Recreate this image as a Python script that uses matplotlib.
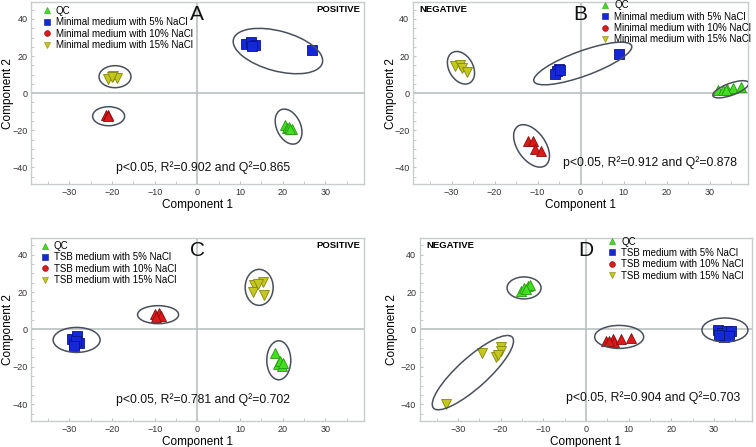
import matplotlib.pyplot as plt
from matplotlib.patches import Ellipse
from matplotlib.lines import Line2D
from matplotlib.transforms import ScaledTranslation

plt.rcParams['font.family'] = ['Liberation Sans', 'DejaVu Sans']

# ---- scores (Component 1, Component 2) ----
# A: minimal medium, positive mode
A_QC = [(20.5, -17), (21, -18.5), (21.5, -18), (22.3, -19.2), (21.8, -19.5)]
A_5 = [(11.5, 26.5), (12.5, 27.5), (13.5, 26), (12.8, 25.5), (27, 23.5)]
A_10 = [(-21.4, -11.5), (-21, -12), (-20.9, -12.5)]
A_15 = [(-21, 7.5), (-19.8, 9.5), (-18.8, 8), (-20, 8.5)]
# B: minimal medium, negative mode
B_QC = [(32, 1.8), (33, 1.5), (34, 2.2), (35.3, 2.8), (37.3, 3.3), (33.7, 1.6)]
B_5 = [(-5, 13), (-5.5, 12), (-6, 10.5), (-4.8, 12.5), (8.9, 21)]
B_10 = [(-12.3, -26), (-11, -26), (-10.7, -30), (-9.2, -31)]
B_15 = [(-29.3, 14.5), (-28, 15), (-27.5, 13.5), (-26.5, 11.5)]
# C: TSB medium, positive mode
C_QC = [(18.3, -12.5), (19, -18.5), (19.8, -19.5), (19.5, -17), (20, -18)]
C_5 = [(-29.5, -5), (-28.3, -3.5), (-28.8, -8), (-27.7, -7), (-28.5, -6), (-29, -9)]
C_10 = [(-10, 8), (-9, 8.8), (-8.5, 7.2), (-9.6, 6.8)]
C_15 = [(13.4, 23.5), (15.3, 25.5), (13, 20), (15.6, 18.5), (14.2, 24.4)]
# D: TSB medium, negative mode
D_QC = [(-15.3, 20.5), (-14.5, 22), (-13.5, 23), (-13, 23.5), (-14, 21.5)]
D_5 = [(31, -0.5), (32, -2), (33.2, -1), (34, -0.8), (32.3, -4), (33.5, -3.5), (31.2, -3)]
D_10 = [(4.7, -6), (6.3, -5.3), (6.6, -6.8), (8.2, -5), (10.6, -4.7), (5.5, -6.2)]
D_15 = [(-32.7, -40), (-24.3, -12.5), (-21, -15), (-20, -9.5), (-19.8, -11.5), (-20.5, -13.5)]

# group ellipses: centre (data), width/height (pixels), angle (deg)
A_ELL = [((18.9, 22.7), 92, 40, -15), ((-19.3, 8.9), 32, 22, 0),
         ((-20.8, -12.4), 32, 19, 0), ((21.4, -18), 24, 37, 25)]
B_ELL = [((0.5, 16), 104, 25, 20), ((-27.8, 13.7), 24, 35, 30),
         ((-11.4, -28.4), 28, 48, 35), ((34.9, 2.1), 38, 12, 20)]
C_ELL = [((-28.3, -5.6), 47, 25, 0), ((-9.2, 7.9), 41, 18, 0),
         ((14.5, 22.5), 28, 36, 0), ((19.1, -16.5), 24, 39, 0)]
D_ELL = [((-14.5, 22.2), 34, 22, 0), ((-26.5, -23.1), 106, 30, 42),
         ((7.8, -4.0), 49, 23, 0), ((32.6, -0.3), 46, 24, 0)]

A_STATS = 'p<0.05, R²=0.902 and Q²=0.865'
B_STATS = 'p<0.05, R²=0.912 and Q²=0.878'
C_STATS = 'p<0.05, R²=0.781 and Q²=0.702'
D_STATS = 'p<0.05, R²=0.904 and Q²=0.703'

MIN_LABELS = ['QC', 'Minimal medium with 5% NaCl', 'Minimal medium with 10% NaCl',
              'Minimal medium with 15% NaCl']
TSB_LABELS = ['QC', 'TSB medium with 5% NaCl', 'TSB medium with 10% NaCl',
              'TSB medium with 15% NaCl']

fills = ['#44dd22', '#1428d8', '#dd1a1a', '#c4c81e']
edges = ['#249a10', '#0a1680', '#8a0c0c', '#84860e']
plot_mk = ['^', 's', '^', 'v']
leg_mk = ['^', 's', 'o', 'v']

fig = plt.figure(figsize=(7.56, 4.47), dpi=100)


def panel(rect, groups, ells, letter, mode, stats, stats_xy, labels, leg_xy, ylab_x):
    ax = fig.add_axes(rect)
    ax.set_xlim(-39, 39)
    ax.set_ylim(-49, 49)
    ax.axhline(0, color='#b4bcbc', lw=1.1, zorder=1)
    ax.axvline(0, color='#b4bcbc', lw=1.1, zorder=1)
    for g, pts in enumerate(groups):
        xs = [p[0] for p in pts]
        ys = [p[1] for p in pts]
        ms = 7.2 if plot_mk[g] == 's' else 7.5
        ax.plot(xs, ys, ls='none', marker=plot_mk[g], ms=ms, mfc=fills[g],
                mec=edges[g], mew=0.6, zorder=3)
    for (cx, cy), w, h, ang in ells:
        tr = fig.dpi_scale_trans + ScaledTranslation(cx, cy, ax.transData)
        ax.add_patch(Ellipse((0, 0), w / 100, h / 100, angle=ang, transform=tr,
                             fill=False, ec='#4a505a', lw=1.1, zorder=4))
    ax.text(0, 0.985, letter, transform=ax.get_xaxis_transform(), ha='center',
            va='top', fontsize=15, color='#111111')
    if mode == 'POSITIVE':
        ax.text(0.99, 0.985, mode, transform=ax.transAxes, ha='right', va='top',
                fontsize=6.8, fontweight='bold')
    else:
        ax.text(0.02, 0.985, mode, transform=ax.transAxes, ha='left', va='top',
                fontsize=6.8, fontweight='bold')
    ax.text(stats_xy[0], stats_xy[1], stats, ha='left', va='center', fontsize=8.8,
            color='#111111')
    handles = [Line2D([], [], ls='none', marker=leg_mk[g], ms=4.2, mfc=fills[g],
                      mec=edges[g], mew=0.4) for g in range(4)]
    ax.legend(handles, labels, loc='upper left', bbox_to_anchor=leg_xy,
              frameon=False, fontsize=7, handlelength=0.8, handletextpad=0.5,
              labelspacing=0.14, borderpad=0, borderaxespad=0)
    ax.set_xticks([-30, -20, -10, 0, 10, 20, 30])
    ax.set_yticks([-40, -20, 0, 20, 40])
    ax.set_xticks(range(-35, 36, 5), minor=True)
    ax.set_yticks(range(-45, 46, 5), minor=True)
    ax.tick_params(which='both', direction='in', color='#c0c4c4', labelsize=6.5,
                   labelcolor='#333333', length=2, pad=2.5)
    ax.set_xlabel('Component 1', fontsize=8.5, labelpad=2)
    ax.set_ylabel('Component 2', fontsize=8.5)
    ax.yaxis.set_label_coords(ylab_x, 0.5)
    for s in ax.spines.values():
        s.set_color('#c8cccc')
        s.set_linewidth(1)
    return ax


panel([0.041, 0.588, 0.44, 0.407], [A_QC, A_5, A_10, A_15], A_ELL, 'A', 'POSITIVE',
      A_STATS, (-19, -40), MIN_LABELS, (0.036, 0.98), -0.052)
panel([0.546, 0.588, 0.444, 0.407], [B_QC, B_5, B_10, B_15], B_ELL, 'B', 'NEGATIVE',
      B_STATS, (-4.1, -37.3), MIN_LABELS, (0.562, 1.01), -0.046)
panel([0.041, 0.058, 0.44, 0.41], [C_QC, C_5, C_10, C_15], C_ELL, 'C', 'POSITIVE',
      C_STATS, (-19, -37.6), TSB_LABELS, (0.03, 0.983), -0.052)
panel([0.555, 0.058, 0.44, 0.41], [D_QC, D_5, D_10, D_15], D_ELL, 'D', 'NEGATIVE',
      D_STATS, (-4.6, -36.4), TSB_LABELS, (0.568, 1.007), -0.064)

fig.savefig('out.png', dpi=100, facecolor='white')
